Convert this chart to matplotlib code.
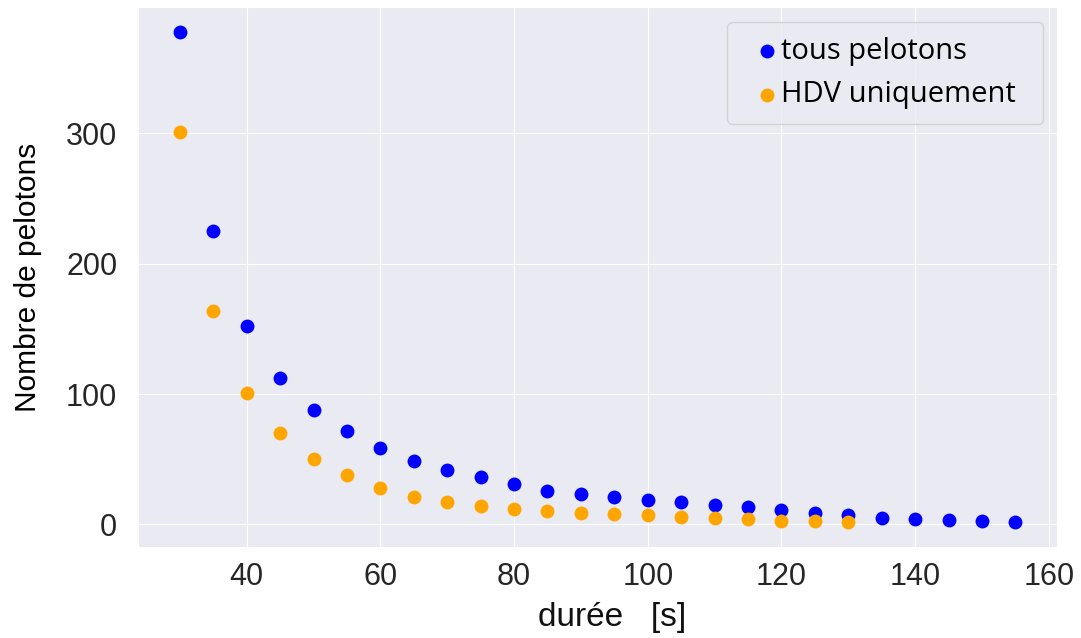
import matplotlib
matplotlib.use('Agg')
import matplotlib.pyplot as plt
import seaborn as sns

duree_tous = [30, 35, 40, 45, 50, 55, 60, 65, 70, 75, 80, 85, 90, 95, 100,
              105, 110, 115, 120, 125, 130, 135, 140, 145, 150, 155]
tous = [378, 225, 152, 112, 88, 72, 59, 49, 42, 36, 31, 26, 23, 21, 19,
        17, 15, 13, 11, 9, 7, 5, 4.5, 3.5, 2.3, 1.5]

duree_hdv = [30, 35, 40, 45, 50, 55, 60, 65, 70, 75, 80, 85, 90, 95, 100,
             105, 110, 115, 120, 125, 130]
hdv = [301, 164, 101, 70, 50, 38, 28, 21, 17, 14, 12, 10, 9, 8, 7,
       6, 5, 4, 3, 2.3, 1.5]

sns.set_style('darkgrid')
plt.rcParams['font.family'] = ['Liberation Sans', 'DejaVu Sans']

fig = plt.figure(figsize=(10.81, 6.38), dpi=100)
ax = fig.add_axes([0.1277, 0.1426, 0.8503, 0.8464])

ax.scatter(duree_tous, tous, color='blue', s=100, label='tous pelotons', linewidths=0)
ax.scatter(duree_hdv, hdv, color='orange', s=100, label='HDV uniquement', linewidths=0)

ax.set_xticks([40, 60, 80, 100, 120, 140, 160])
ax.set_yticks([0, 100, 200, 300])
ax.tick_params(labelsize=22, colors='#262626', length=0)
ax.tick_params(axis='x', pad=11)
ax.tick_params(axis='y', pad=15)
ax.set_xlabel('durée   [s]', fontsize=24, color='#111111', labelpad=7)
ax.xaxis.label.set_x(0.516)
ax.set_ylabel('Nombre de pelotons', fontsize=21.5, color='black', labelpad=17)

leg = ax.legend(loc='upper right', bbox_to_anchor=(0.641, 0.783, 0.344, 0.189),
                mode='expand', prop={'family': 'Open Sans', 'size': 21},
                handlelength=1.7, handletextpad=-0.34, borderpad=0.5,
                labelspacing=0.5, borderaxespad=0)
for t in leg.get_texts():
    t.set_color('black')
leg.get_frame().set_edgecolor('#cccccc')

fig.savefig('out.png', dpi=100)
